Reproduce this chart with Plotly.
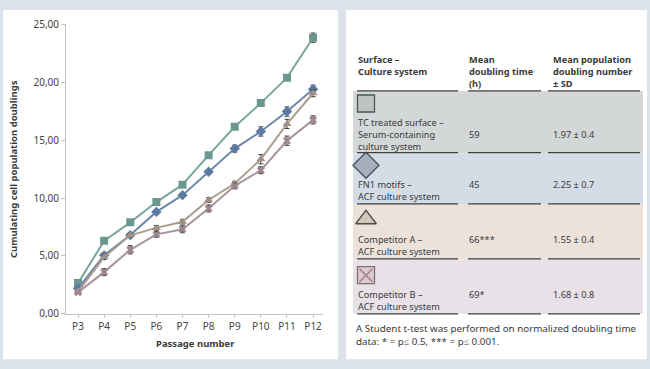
import plotly.graph_objects as go

# ---------------- data ----------------
passages = ["P3", "P4", "P5", "P6", "P7", "P8", "P9", "P10", "P11", "P12"]

tc_serum = [2.65, 6.3, 7.9, 9.65, 11.15, 13.7, 16.15, 18.2, 20.4, 23.85]
tc_serum_sd = [0.15, 0.15, 0.15, 0.15, 0.15, 0.2, 0.2, 0.2, 0.2, 0.4]

fn1_acf = [2.2, 5.05, 6.8, 8.8, 10.25, 12.27, 14.27, 15.75, 17.47, 19.4]
fn1_acf_sd = [0.15, 0.2, 0.15, 0.2, 0.15, 0.2, 0.3, 0.4, 0.4, 0.35]

compA_acf = [1.92, 4.9, 6.78, 7.42, 7.95, 9.83, 11.25, 13.35, 16.4, 19.05]
compA_acf_sd = [0.1, 0.2, 0.15, 0.2, 0.2, 0.2, 0.2, 0.4, 0.4, 0.3]

compB_acf = [1.85, 3.6, 5.53, 6.86, 7.3, 9.1, 11.05, 12.4, 14.95, 16.75]
compB_acf_sd = [0.1, 0.3, 0.35, 0.25, 0.3, 0.3, 0.25, 0.3, 0.4, 0.35]

y_ticks = [0, 5, 10, 15, 20, 25]

header_col1 = ["Surface –", "Culture system"]
header_col2 = ["Mean", "doubling time", "(h)"]
header_col3 = ["Mean population", "doubling number", "± SD"]

row_names = [
    ["TC treated surface –", "Serum-containing", "culture system"],
    ["FN1 motifs –", "ACF culture system"],
    ["Competitor A –", "ACF culture system"],
    ["Competitor B –", "ACF culture system"],
]
row_doubling_time = ["59", "45", "66***", "69*"]
row_pd_number = ["1.97 ± 0.4", "2.25 ± 0.7", "1.55 ± 0.4", "1.68 ± 0.8"]
footnote = ["A Student t-test was performed on normalized doubling time",
            "data: * = p≤ 0.5, *** = p≤ 0.001."]

# ---------------- styles ----------------
W, H = 650, 369
FONT = "Noto Sans"
TXT = "#3a3a3a"
BG = "#dbe2e9"

series = [
    dict(name="TC treated surface", y=tc_serum, sd=tc_serum_sd, line="#7ba59e",
         mcolor="#6a988f", symbol="square", size=8),
    dict(name="FN1 motifs", y=fn1_acf, sd=fn1_acf_sd, line="#6d87aa",
         mcolor="#5c7aa2", symbol="diamond", size=8),
    dict(name="Competitor A", y=compA_acf, sd=compA_acf_sd, line="#ab9d8e",
         mcolor="#a09282", symbol="triangle-up", size=8),
    dict(name="Competitor B", y=compB_acf, sd=compB_acf_sd, line="#a9939c",
         mcolor="#9e8690", symbol="x", size=7),
]

fig = go.Figure()

for s in series:
    fig.add_trace(go.Scatter(
        x=passages, y=s["y"], mode="lines+markers", name=s["name"],
        line=dict(color=s["line"], width=2),
        marker=dict(color=s["mcolor"], symbol=s["symbol"], size=s["size"]),
        error_y=dict(type="data", array=s["sd"], visible=True,
                     color="#3c3c3c", thickness=1, width=2.5),
        xaxis="x", yaxis="y", showlegend=False, hoverinfo="skip"))


# pixel -> paper helpers (margins are zero, so paper == page)
def PX(x):
    return x / W


def PY(y):
    return 1 - y / H


# icon markers in the table (on overlay axes x2/y2 in pixel units)
icon_x = [366, 366, 366, 366]
icon_y = [100, 164, 220, 278]
icon_styles = [
    dict(symbol="square", size=17, color="#bec3c2", line=dict(color="#4d5656", width=1.3)),
    dict(symbol="diamond", size=20, color="#a6afbd", line=dict(color="#46505c", width=1.3)),
    dict(symbol="triangle-up", size=18, color="#d3c7bb", line=dict(color="#4e4a46", width=1.3)),
    dict(symbol="square", size=17, color="#dccbce", line=dict(color="#7c6f74", width=1.3)),
]
for i, st in enumerate(icon_styles):
    fig.add_trace(go.Scatter(
        x=[icon_x[i]], y=[icon_y[i]], mode="markers", xaxis="x2", yaxis="y2",
        marker=st, showlegend=False, hoverinfo="skip"))
fig.add_trace(go.Scatter(
    x=[icon_x[3]], y=[icon_y[3]], mode="markers", xaxis="x2", yaxis="y2",
    marker=dict(symbol="x-thin", size=13, color="#a4838b",
                line=dict(color="#a4838b", width=1.6)),
    showlegend=False, hoverinfo="skip"))

shapes = []
# white panels
for x0, x1 in [(3, 338), (346, 647)]:
    shapes.append(dict(type="rect", xref="paper", yref="paper", x0=PX(x0), x1=PX(x1),
                       y0=PY(365), y1=PY(3), fillcolor="white", line=dict(width=0),
                       layer="below"))
# table rows
row_bounds = [(87, 152), (152, 205), (205, 262), (262, 318)]
row_colors = ["#d3d7d7", "#d4dde6", "#ece2da", "#e8e1e7"]
for (y0, y1), c in zip(row_bounds, row_colors):
    shapes.append(dict(type="rect", xref="paper", yref="paper", x0=PX(353), x1=PX(643),
                       y0=PY(y1), y1=PY(y0), fillcolor=c, line=dict(width=0),
                       layer="below"))
# underlines
col_lines = [(357, 458), (468, 541), (548, 640)]
for yl in [87, 151, 204, 261, 318]:
    for xa, xb in col_lines:
        shapes.append(dict(type="line", xref="paper", yref="paper", x0=PX(xa), x1=PX(xb),
                           y0=PY(yl), y1=PY(yl), line=dict(color="#3f3f3f", width=1.2)))

annotations = []


def cell(x, y_top, lines, size=9.2, bold=False):
    t = "<br>".join(f"<b>{l}</b>" if bold else l for l in lines)
    annotations.append(dict(xref="paper", yref="paper", x=PX(x), y=PY(y_top), text=t,
                            showarrow=False, xanchor="left", yanchor="top", align="left",
                            borderpad=0,
                            font=dict(family=FONT, size=size, color=TXT)))


col_x = [357, 468, 552]
cell(col_x[0], 47, header_col1, bold=True)
cell(col_x[1], 47, header_col2, bold=True)
cell(col_x[2], 47, header_col3, bold=True)

name_top = [112, 176, 233, 290]
val_top = [124, 176, 233, 290]
for r in range(4):
    cell(col_x[0], name_top[r], row_names[r])
    cell(col_x[1], val_top[r], [row_doubling_time[r]])
    cell(col_x[2], val_top[r], [row_pd_number[r]])

cell(355, 325, footnote, size=9.8)

# axis titles
annotations.append(dict(xref="paper", yref="paper", x=PX(13), y=PY(168),
                        text="<b>Cumulating cell population doublings</b>",
                        showarrow=False, textangle=-90, xanchor="center", yanchor="middle",
                        font=dict(family=FONT, size=9.5, color=TXT)))
annotations.append(dict(xref="paper", yref="paper", x=PX(195), y=PY(349),
                        text="<b>Passage number</b>",
                        showarrow=False, xanchor="center", yanchor="middle",
                        font=dict(family=FONT, size=9.5, color=TXT)))

fig.update_layout(
    width=W, height=H,
    margin=dict(l=0, r=0, t=0, b=0),
    paper_bgcolor=BG, plot_bgcolor="rgba(0,0,0,0)",
    separators=",.",
    xaxis=dict(domain=[66 / W, 323 / W], type="category", range=[-0.46, 9.38],
               showline=True, linecolor="#c4c4c4", linewidth=1, ticks="outside",
               ticklen=3, tickcolor="#c4c4c4", showgrid=False, zeroline=False,
               tickfont=dict(family=FONT, size=10, color="#444"), anchor="y",
               fixedrange=True),
    yaxis=dict(domain=[(H - 318) / H, (H - 18) / H], range=[0, 25],
               tickvals=y_ticks, tickformat=".2f", showline=True, linecolor="#c4c4c4",
               linewidth=1, ticks="outside", ticklen=4, tickcolor="#c4c4c4",
               showgrid=False, zeroline=False,
               tickfont=dict(family=FONT, size=10, color="#444"), anchor="x",
               fixedrange=True),
    xaxis2=dict(domain=[0, 1], range=[0, W], visible=False, anchor="y2", fixedrange=True),
    yaxis2=dict(domain=[0, 1], range=[H, 0], visible=False, anchor="x2", fixedrange=True),
    shapes=shapes,
    annotations=annotations,
)

fig.write_html("out.html", config={"displayModeBar": False},
               post_script="document.body.style.margin='0';")
